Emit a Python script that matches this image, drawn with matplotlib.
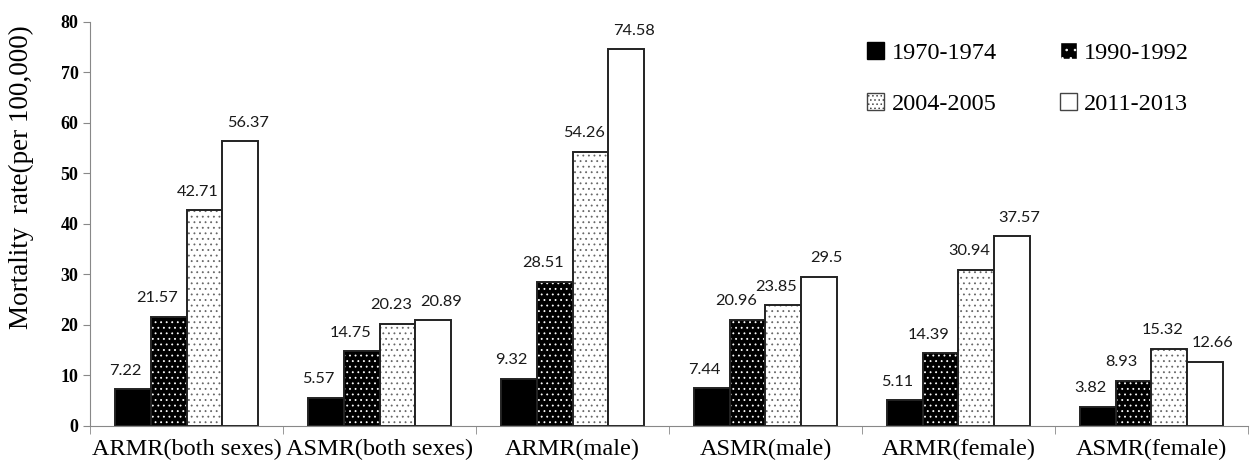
import matplotlib.pyplot as plt
from matplotlib.patches import Patch
import numpy as np

categories = ["ARMR(both sexes)", "ASMR(both sexes)", "ARMR(male)",
              "ASMR(male)", "ARMR(female)", "ASMR(female)"]
periods = ["1970-1974", "1990-1992", "2004-2005", "2011-2013"]
v1970 = [7.22, 5.57, 9.32, 7.44, 5.11, 3.82]
v1990 = [21.57, 14.75, 28.51, 20.96, 14.39, 8.93]
v2004 = [42.71, 20.23, 54.26, 23.85, 30.94, 15.32]
v2011 = [56.37, 20.89, 74.58, 29.5, 37.57, 12.66]
labels1970 = ["7.22", "5.57", "9.32", "7.44", "5.11", "3.82"]
labels1990 = ["21.57", "14.75", "28.51", "20.96", "14.39", "8.93"]
labels2004 = ["42.71", "20.23", "54.26", "23.85", "30.94", "15.32"]
labels2011 = ["56.37", "20.89", "74.58", "29.5", "37.57", "12.66"]

series = [v1970, v1990, v2004, v2011]
series_labels = [labels1970, labels1990, labels2004, labels2011]
faces = ["black", "black", "white", "white"]
hatches = [None, "...", "...", None]
hatch_cols = [None, "white", "#666666", None]
label_shift = [-0.04, -0.06, -0.035, 0.04]

serif = "Liberation Serif"
plt.rcParams['hatch.linewidth'] = 0.6

fig = plt.figure(figsize=(12.54, 4.66), dpi=100)
ax = fig.add_axes([0.072, 0.086, 0.923, 0.867])

x = np.arange(len(categories))
w = 0.185
for i in range(4):
    pos = x + (i - 1.5) * w
    if hatches[i]:
        ax.bar(pos, series[i], w, color=faces[i], hatch=hatches[i],
               edgecolor=hatch_cols[i], linewidth=0)
        bars = ax.bar(pos, series[i], w, fill=False, edgecolor="#222222",
                      linewidth=1.4)
    else:
        bars = ax.bar(pos, series[i], w, color=faces[i], edgecolor="#222222",
                      linewidth=1.4)
    for b, t in zip(bars, series_labels[i]):
        ax.text(b.get_x() + b.get_width() / 2 + label_shift[i], b.get_height() + 2.3, t,
                ha="center", va="bottom", fontsize=11.8,
                family="Lato", color="#1a1a1a")

# legend, filled row by row like the original
handles = [Patch(facecolor="black", edgecolor="black"),
           Patch(facecolor="white", edgecolor="#444444", hatch="...."),
           Patch(facecolor="black", edgecolor="white", hatch=".."),
           Patch(facecolor="white", edgecolor="#444444")]
leg_labels = [periods[0], periods[2], periods[1], periods[3]]
fig.legend(handles, leg_labels, ncol=2, loc="upper left", frameon=False,
           prop={"family": serif, "size": 17.5},
           bbox_to_anchor=(855 / 1254, 1 - 30 / 466),
           handlelength=0.7, handleheight=0.7, handletextpad=0.3,
           columnspacing=2.6, labelspacing=1.2, borderpad=0)

ax.set_xlim(-0.5, len(categories) - 0.5)
ax.set_ylim(0, 80)
ax.set_yticks(range(0, 81, 10))
ax.set_xticks(x)
ax.set_xticklabels(categories, family=serif, fontsize=17.5)
ax.set_xticks(np.arange(len(categories) + 1) - 0.5, minor=True)
ax.tick_params(axis="x", which="major", length=0, pad=9)
ax.tick_params(axis="x", which="minor", length=6, direction="out", color="#888888")
ax.tick_params(axis="y", length=5, color="#888888", labelsize=13)
for lab in ax.get_yticklabels():
    lab.set_family(serif)
    lab.set_fontweight("bold")
ax.set_ylabel("Mortality  rate(per 100,000)", family=serif, fontsize=19.5)
ax.yaxis.set_label_coords(-0.049, 0.615)

for s in ["top", "right"]:
    ax.spines[s].set_visible(False)
ax.spines["left"].set_color("#888888")
ax.spines["bottom"].set_color("#888888")

fig.savefig("out.png", dpi=100)
